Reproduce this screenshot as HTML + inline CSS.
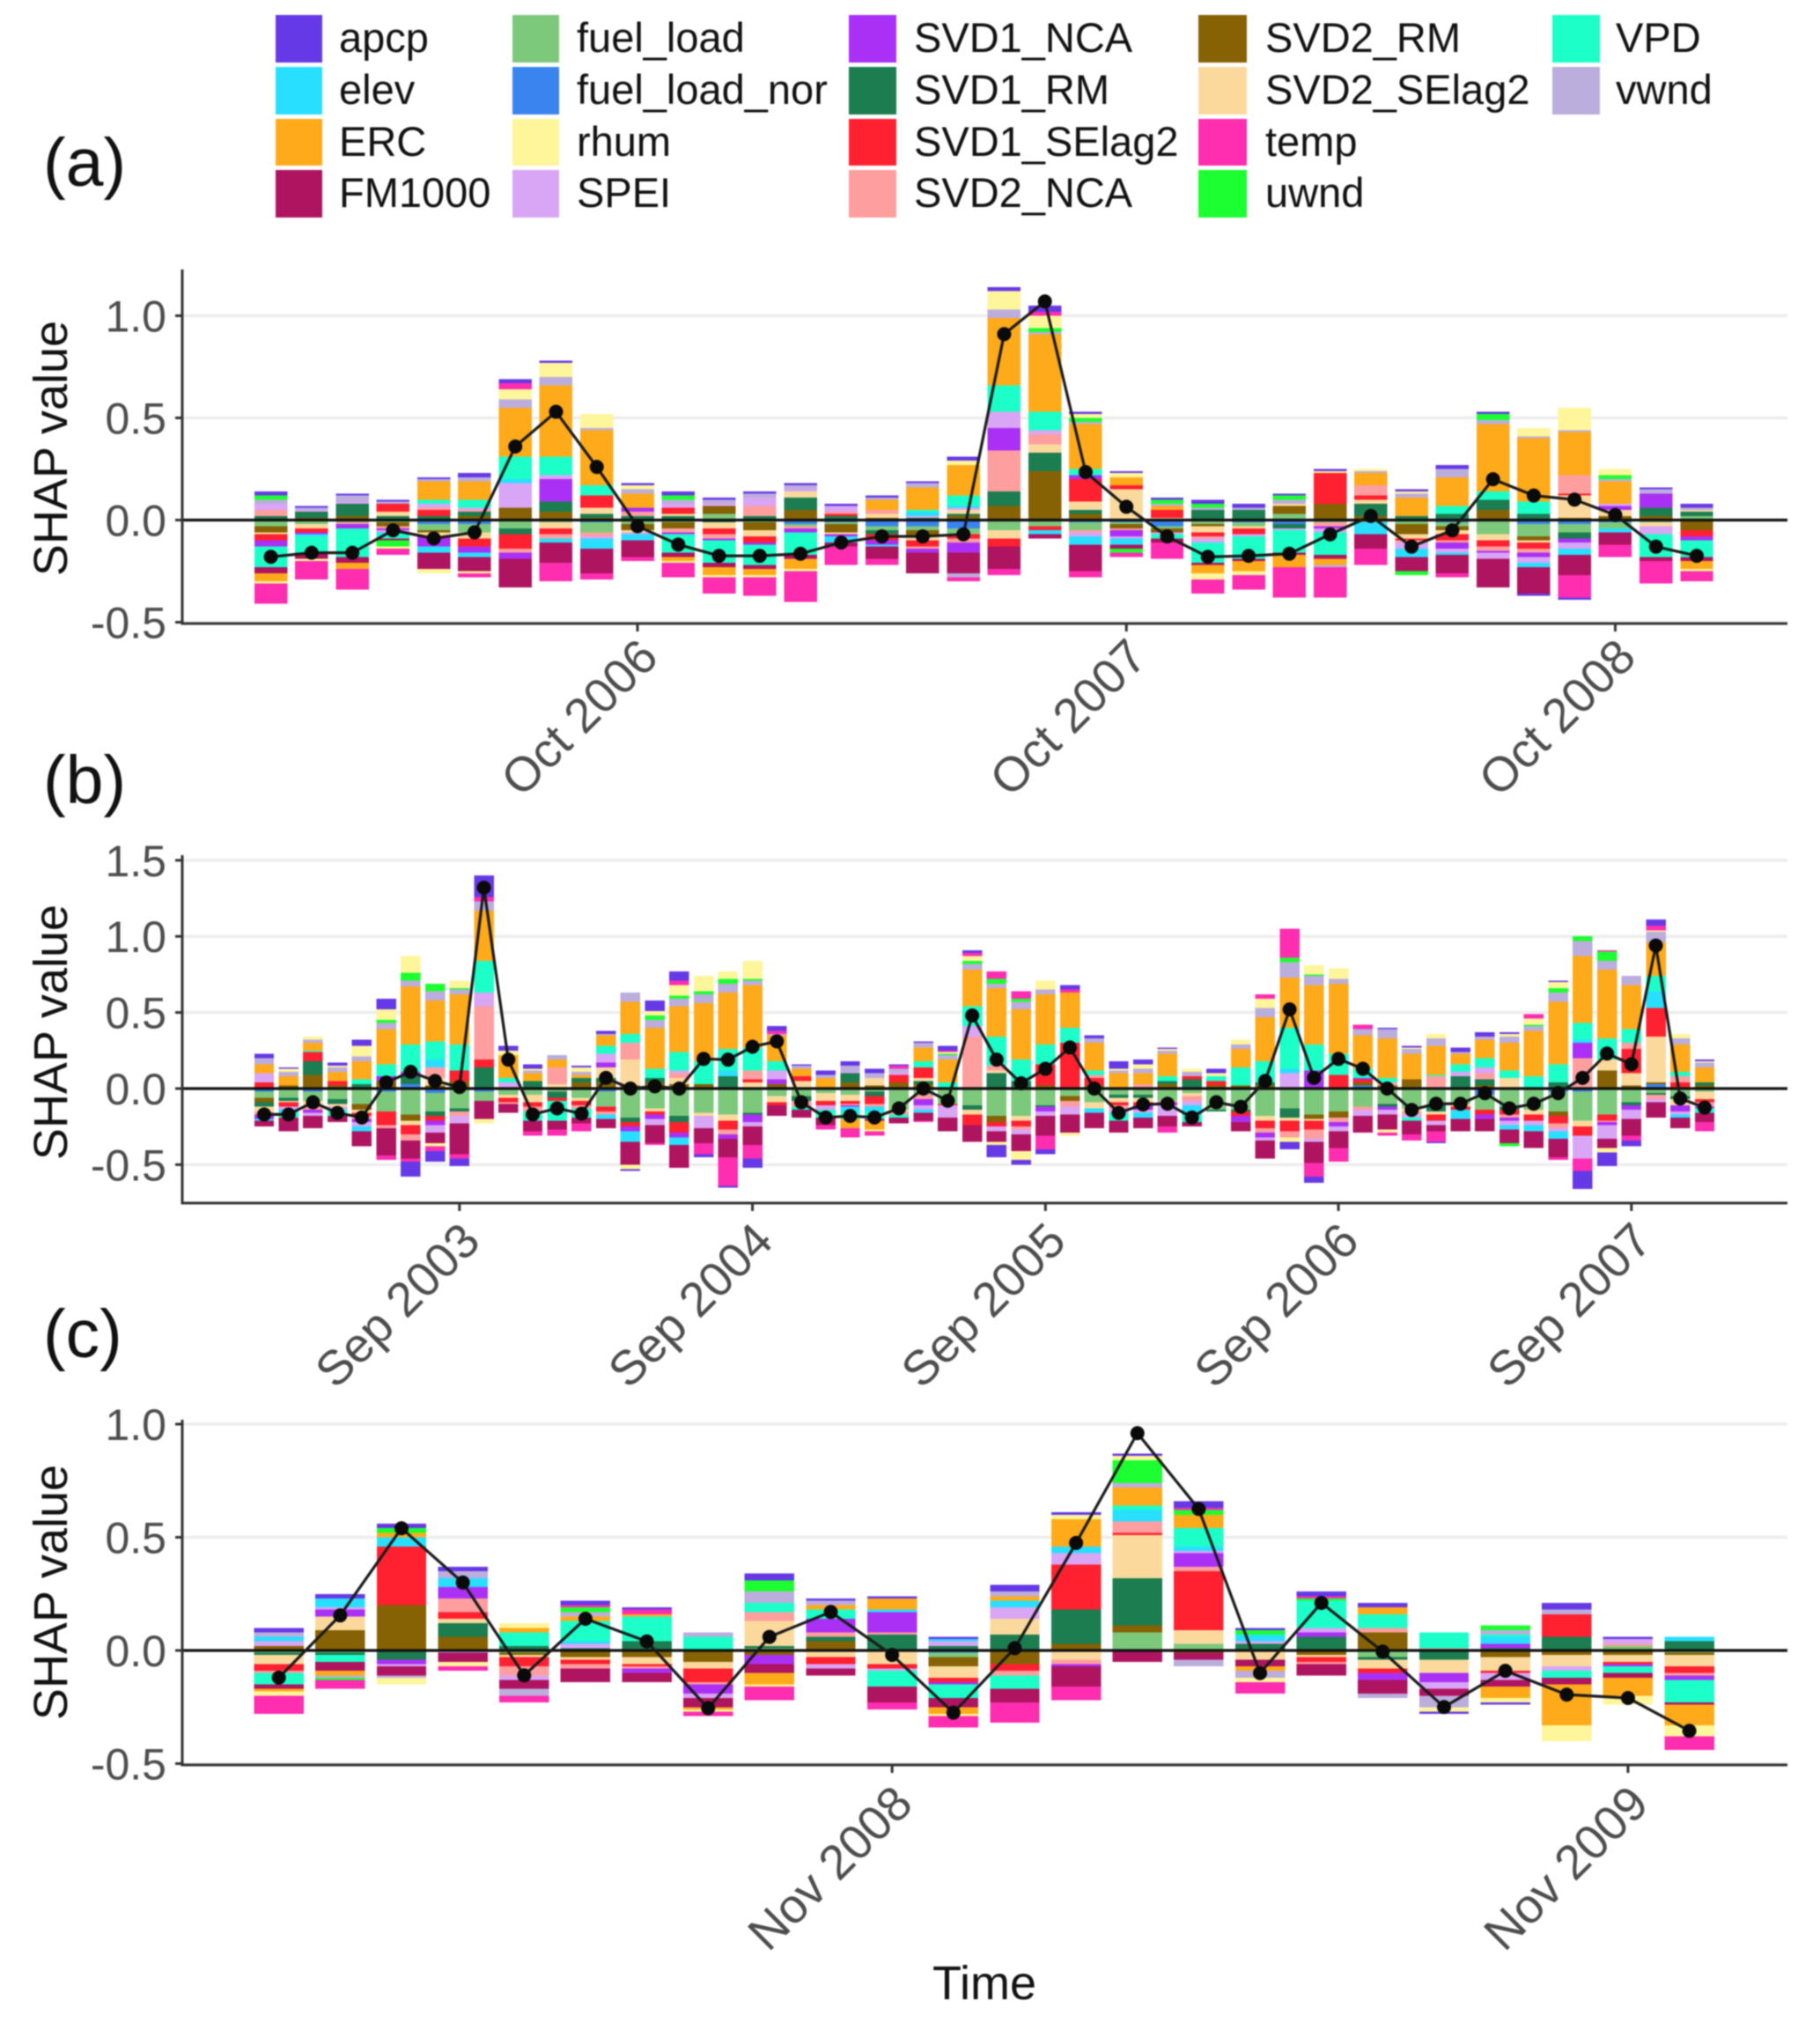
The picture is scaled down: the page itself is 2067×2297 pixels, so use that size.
<!DOCTYPE html>
<html lang="en">
<head>
<meta charset="utf-8">
<title>SHAP value time series</title>
<style>
html,body{margin:0;padding:0;background:#fff;width:2067px;height:2297px;overflow:hidden}
svg{display:block;font-family:"Liberation Sans",sans-serif;filter:blur(.7px)}
.lg{font-size:47px;fill:#111}
.ytick{font-size:50px;fill:#4d4d4d;text-anchor:end}
.xtick{font-size:55px;fill:#4d4d4d;text-anchor:end}
.ytitle{font-size:54px;fill:#111;text-anchor:middle}
.tag{font-size:77px;fill:#111}
</style>
</head>
<body>
<svg id="chart" xmlns="http://www.w3.org/2000/svg" width="2067" height="2297" viewBox="0 0 2067 2297">
<rect width="2067" height="2297" fill="#fff"/>
<g>
<g><rect x="313" y="17" width="53" height="54" fill="#6639E6"/><text class="lg" x="385" y="59">apcp</text></g>
<g><rect x="313" y="76" width="53" height="54" fill="#29DFFF"/><text class="lg" x="385" y="118">elev</text></g>
<g><rect x="313" y="135" width="53" height="53" fill="#FFAA1A"/><text class="lg" x="385" y="177">ERC</text></g>
<g><rect x="313" y="193" width="53" height="54" fill="#AE1460"/><text class="lg" x="385" y="235">FM1000</text></g>
<g><rect x="582" y="17" width="53" height="54" fill="#7CC97C"/><text class="lg" x="655" y="59">fuel_load</text></g>
<g><rect x="582" y="76" width="53" height="54" fill="#3A84F0"/><text class="lg" x="655" y="118">fuel_load_nor</text></g>
<g><rect x="582" y="135" width="53" height="53" fill="#FFF59A"/><text class="lg" x="655" y="177">rhum</text></g>
<g><rect x="582" y="193" width="53" height="54" fill="#D9A5F5"/><text class="lg" x="655" y="235">SPEI</text></g>
<g><rect x="964" y="17" width="54" height="54" fill="#AB30F5"/><text class="lg" x="1038" y="59">SVD1_NCA</text></g>
<g><rect x="964" y="76" width="54" height="54" fill="#1B7D50"/><text class="lg" x="1038" y="118">SVD1_RM</text></g>
<g><rect x="964" y="135" width="54" height="53" fill="#FF2030"/><text class="lg" x="1038" y="177">SVD1_SElag2</text></g>
<g><rect x="964" y="193" width="54" height="54" fill="#FF9E9E"/><text class="lg" x="1038" y="235">SVD2_NCA</text></g>
<g><rect x="1361" y="17" width="55" height="54" fill="#866204"/><text class="lg" x="1437" y="59">SVD2_RM</text></g>
<g><rect x="1361" y="76" width="55" height="54" fill="#FBD99C"/><text class="lg" x="1437" y="118">SVD2_SElag2</text></g>
<g><rect x="1361" y="135" width="55" height="53" fill="#FF2DB0"/><text class="lg" x="1437" y="177">temp</text></g>
<g><rect x="1361" y="193" width="55" height="54" fill="#1CFF30"/><text class="lg" x="1437" y="235">uwnd</text></g>
<g><rect x="1763" y="17" width="54" height="54" fill="#1CFFC8"/><text class="lg" x="1835" y="59">VPD</text></g>
<g><rect x="1763" y="76" width="54" height="54" fill="#BBADDC"/><text class="lg" x="1835" y="118">vwnd</text></g>
</g>
<text class="tag" x="49" y="211">(a)</text>
<text class="tag" x="49" y="912">(b)</text>
<text class="tag" x="49" y="1541">(c)</text>
<text x="1118" y="2270" font-size="54" fill="#111" text-anchor="middle">Time</text>
</svg>
<script>
// Column order of every row in the panel*Bars arrays (SHAP contributions in hundredths).
const seriesNames = ['apcp','temp','uwnd','rhum','vwnd','ERC','FM1000','VPD','elev','fuel_load_nor','SPEI','SVD1_NCA','SVD2_NCA','SVD1_SElag2','SVD2_SElag2','SVD1_RM','SVD2_RM','fuel_load'];
const seriesColors = ['#6639E6','#FF2DB0','#1CFF30','#FFF59A','#BBADDC','#FFAA1A','#AE1460','#1CFFC8','#29DFFF','#3A84F0','#D9A5F5','#AB30F5','#FF9E9E','#FF2030','#FBD99C','#1B7D50','#866204','#7CC97C'];
// Stack sequence, outermost to nearest zero.
const stackSequence = ['apcp','temp','rhum','uwnd','vwnd','ERC','FM1000','VPD','elev','SPEI','SVD1_NCA','SVD2_NCA','SVD1_SElag2','SVD2_SElag2','SVD1_RM','SVD2_RM','fuel_load','fuel_load_nor'];

const panelABars = [
[2,-10,2,-1,2,-4,-3,-10,0,0,3,-3,3,-3,-1,2,-3,-3],
[1,-9,0,-1,1,0,-3,-8,-1,0,1,-1,0,-2,-2,3,1,-2],
[1,-10,0,0,3,-3,-3,-14,0,0,1,-2,-1,0,0,6,2,-1],
[1,-3,-3,-1,1,0,-1,-2,-1,0,-1,-1,-1,4,2,2,-2,-1],
[1,0,0,-2,1,9,-8,2,-3,-2,2,-5,1,3,-2,2,-1,-3],
[2,-2,0,-1,2,9,-7,4,-2,-2,1,-3,1,-4,-3,2,2,-4],
[2,3,0,5,4,24,-14,11,2,0,12,-3,-2,-7,0,-3,6,-4],
[1,-9,0,7,4,35,-10,9,-2,0,2,11,-2,-3,-3,5,4,-1],
[0,-3,0,7,1,27,-12,5,-5,-1,-1,0,-2,6,3,2,1,-5],
[1,-2,0,2,2,7,-8,0,-3,0,-1,2,2,0,-1,2,-3,-2],
[2,-7,2,-1,2,-2,-2,-9,0,0,2,-1,-2,3,1,2,-3,-1],
[1,-8,0,-1,2,-4,-2,-11,0,0,1,-1,-2,-3,-3,-1,4,3],
[1,-9,0,-1,2,-3,-2,-10,0,0,4,-1,5,-3,-3,2,-4,-1],
[1,-15,0,-1,2,-5,-2,-11,0,-2,1,-2,-1,0,3,6,5,-1],
[1,-9,0,0,0,0,-2,0,-3,-1,3,-1,1,1,-1,2,-4,-1],
[1,-3,0,0,1,5,-6,0,-1,-3,0,-2,2,-3,2,-2,1,-2],
[1,0,0,0,2,11,-10,1,2,-3,1,-2,-1,-3,-2,1,-3,-2],
[2,-2,0,2,-2,15,-10,5,1,-4,1,-5,-2,-2,2,1,2,-3],
[2,-3,0,9,4,33,-11,13,0,0,8,11,20,-4,-4,7,7,-5],
[3,2,2,6,1,38,-2,9,-2,0,2,0,5,-2,4,9,24,-3],
[1,-3,2,2,1,22,-13,3,-4,-1,-2,2,-1,11,4,2,3,-4],
[1,-2,-2,2,0,4,-2,0,-3,-1,-1,-3,-1,2,15,0,-2,-1],
[1,-8,2,0,1,2,-2,-2,0,-3,-1,0,0,4,1,0,-2,-1],
[2,-7,2,-3,1,-4,-1,-10,0,0,-2,0,-1,-2,-3,5,-1,-2],
[2,-7,0,-2,1,-5,-1,-11,0,-1,-1,0,0,-3,-1,5,0,-2],
[1,-15,2,0,2,-6,-1,-11,0,-2,-1,0,0,0,1,-2,4,3],
[1,-15,0,1,-1,-3,-2,-11,0,0,-2,-1,-2,15,0,0,8,-1],
[0,-8,0,1,1,6,-7,0,-6,0,0,0,5,2,2,6,2,-1],
[1,0,-2,1,2,9,-7,0,-4,0,-3,0,-1,-1,-2,2,-5,-2],
[2,-2,0,0,4,14,-9,4,-1,-1,-2,-3,-1,-3,-2,3,-2,-2],
[1,0,3,0,2,33,-14,4,0,0,-3,-1,-2,-3,-3,5,5,-7],
[-1,0,0,4,1,31,-13,6,-2,-2,-3,-2,-2,-3,-1,3,-2,-6],
[-1,-11,0,11,1,21,-10,0,-3,-2,-3,-2,9,1,11,-3,1,-4],
[0,-6,2,3,1,11,-6,0,-2,-1,1,2,0,0,3,0,2,-3],
[1,-11,0,0,2,0,-2,-11,0,0,-4,7,0,0,-2,4,2,-1],
[2,-5,0,-1,1,-4,-2,-8,0,0,0,-2,0,-3,1,2,-5,2]
];
const panelALine = [-.18,-.16,-.16,-.05,-.09,-.06,.36,.53,.26,-.03,-.12,-.175,-.175,-.165,-.11,-.08,-.08,-.07,.91,1.07,.235,.065,-.08,-.18,-.175,-.165,-.07,.02,-.13,-.05,.20,.12,.10,.025,-.13,-.175];
const panelAYTicks = [1.0,0.5,0.0,-0.5];
const panelAYLabels = ['1.0','0.5','0.0','-0.5'];
const panelAXTickMonths = [9,21,33];
const panelAXLabels = ['Oct 2006','Oct 2007','Oct 2008'];

const panelBBars = [
[3,0,0,0,4,6,-4,0,-1,-2,6,-3,-2,4,-3,-3,-3,-4],
[1,0,0,2,3,6,-9,-3,-2,-1,-2,0,0,-3,-1,-2,2,-5],
[0,0,0,2,2,5,-8,1,0,-2,-2,-2,-2,6,-4,9,9,-6],
[2,0,0,1,3,6,-4,-4,0,0,-2,0,0,3,-2,-3,2,-7],
[4,0,0,7,3,12,-10,3,-3,0,-3,-2,-2,-2,-2,3,-4,-10],
[7,-3,2,7,4,23,-18,8,0,-2,0,3,-2,-9,0,0,5,-13],
[-10,-2,5,11,4,38,-12,18,0,3,0,3,-4,-6,-3,5,-4,-17],
[-7,-3,5,-2,6,27,-7,12,5,-3,-5,-3,7,-3,5,-3,2,-12],
[-5,-3,1,5,3,33,-20,17,0,0,-5,0,-3,7,0,-2,5,-13],
[14,3,0,-3,6,33,-12,21,0,-2,9,0,35,5,0,14,0,-6],
[3,0,0,3,0,15,-6,3,0,0,3,0,-1,-3,-2,0,1,-4],
[3,-3,0,1,2,5,-7,-6,0,0,0,0,-3,-3,-5,4,1,-4],
[0,-4,0,0,3,5,-6,-13,0,0,0,0,11,-2,2,-4,1,-2],
[1,-5,0,3,2,2,-4,-6,0,0,0,0,-2,-3,-2,3,4,-6],
[2,0,0,0,1,7,-6,5,-3,-2,6,3,-2,-3,7,3,4,-10],
[-1,0,0,-3,6,21,-15,6,-7,0,0,-3,11,-3,17,-3,2,-19],
[7,-1,3,3,5,27,-12,6,0,0,-4,-3,0,-2,-2,3,4,-13],
[6,3,2,7,5,30,-15,12,-5,-1,2,-3,3,-7,4,-4,3,-17],
[-2,-7,2,10,6,38,-10,15,0,0,-8,0,0,0,-2,0,3,-16],
[-1,-19,3,5,6,37,-12,14,4,0,0,-3,-3,-6,-4,8,0,-17],
[-6,-9,1,12,3,41,-12,15,0,0,-3,-5,6,2,3,-1,1,-16],
[3,2,0,0,1,17,-7,6,0,0,6,3,0,-2,-4,0,3,-5],
[1,0,0,0,2,5,-5,-2,0,0,0,0,-4,3,4,-3,1,-5],
[3,-3,0,0,2,6,-5,-5,0,0,-3,0,0,-3,-5,0,1,-3],
[3,-6,0,0,4,-6,0,-5,-3,0,1,-1,-1,-2,-4,6,4,-4],
[3,-3,0,-1,3,-6,-1,-5,-3,0,0,0,-2,-5,5,-3,2,-2],
[1,2,0,0,2,0,-4,-2,0,0,2,0,-2,5,-1,0,4,-14],
[1,-1,0,0,3,9,-5,4,-2,0,-3,-4,-3,7,2,2,3,-4],
[3,1,1,1,3,15,-9,4,0,0,-8,0,0,-1,0,0,0,-10],
[2,2,2,3,4,24,-11,13,0,0,7,0,34,-7,-3,-3,0,-11],
[-8,5,3,-2,3,32,-7,19,0,0,-3,0,3,-3,2,10,-4,-18],
[-3,5,2,-6,5,33,-11,14,0,0,-3,0,-2,-4,-3,5,0,-18],
[-3,-9,0,6,3,33,-13,13,0,0,-3,-3,0,14,0,-1,2,-11],
[3,2,0,-2,0,23,-12,10,0,0,-5,0,-4,30,0,0,-3,-5],
[2,0,0,0,3,18,-10,3,-3,0,0,0,2,5,-4,0,2,-9],
[5,0,0,1,2,9,-8,-4,-1,0,-3,0,-2,-2,-3,-2,1,-4],
[3,0,0,3,3,7,-7,0,-3,0,-2,-3,2,-2,-3,-2,1,-4],
[1,-4,0,1,2,15,-7,3,0,0,-7,-2,-1,0,0,2,3,-8],
[0,0,0,2,3,0,-3,-4,-7,0,-3,0,-3,2,-2,5,1,-3],
[3,0,0,2,0,0,0,3,0,0,0,0,0,3,0,-1,2,-14],
[0,0,0,3,3,12,-6,12,0,0,0,-4,0,-3,0,-1,2,-14],
[0,3,0,6,6,29,-12,14,0,0,-2,-3,-3,-5,-3,2,2,-18],
[-5,19,3,-3,10,33,0,27,3,0,10,0,-4,-7,-2,-6,0,-13],
[-4,-9,1,6,6,39,-14,17,0,-1,-2,12,-6,-6,-1,0,-3,-16],
[0,-9,0,7,3,46,-11,14,0,0,-3,-3,-3,9,0,0,-4,-15],
[0,3,0,0,4,22,-11,6,0,2,-4,1,-2,2,0,0,2,-12],
[1,-2,0,-2,6,26,-10,3,0,0,-3,-2,2,0,0,-2,2,-10],
[1,-4,0,1,3,17,-9,-2,0,0,-2,0,-2,0,-2,0,6,-13],
[-1,-7,0,3,5,19,-4,1,0,0,-3,0,7,-4,-2,-5,1,-10],
[3,0,0,0,1,7,-8,5,-6,0,3,0,0,-2,-2,8,0,-10],
[3,0,0,0,2,12,-8,6,0,-4,4,-3,4,-3,0,4,2,-10],
[1,0,-2,2,4,18,-9,5,-3,0,-3,-2,-2,-3,7,-2,0,-12],
[0,3,1,4,3,30,-11,8,-4,0,-3,0,0,-4,-3,0,0,-14],
[1,-2,3,4,6,41,-12,12,-5,-2,-2,0,-3,-5,0,4,-3,-13],
[-12,-8,3,0,10,44,0,11,2,-2,-15,10,20,-6,-4,0,0,-19],
[-9,1,6,-3,6,45,-6,14,0,0,-9,-2,-1,-4,7,0,12,-17],
[-4,-3,0,0,6,29,-11,9,0,0,-6,-3,4,16,8,-2,2,-9],
[4,3,0,1,7,22,-10,10,11,3,-2,0,-3,19,30,-1,1,-3],
[0,0,0,3,4,18,-7,3,-2,0,-2,-4,4,3,-4,-2,1,-5],
[1,-6,0,1,3,10,-6,-3,0,0,0,-1,-3,-2,-5,2,2,-2]
];
const panelBLine = [-.17,-.17,-.09,-.16,-.19,.04,.11,.05,.01,1.32,.19,-.17,-.13,-.165,.07,0,.015,0,.195,.19,.275,.31,-.09,-.19,-.18,-.19,-.13,0,-.08,.48,.19,.035,.13,.27,0,-.16,-.105,-.10,-.19,-.09,-.12,.05,.52,.07,.195,.13,0,-.14,-.10,-.10,-.03,-.13,-.10,-.03,.07,.23,.16,.94,-.065,-.125];
const panelBYTicks = [1.5,1.0,0.5,0.0,-0.5];
const panelBYLabels = ['1.5','1.0','0.5','0.0','-0.5'];
const panelBXTickMonths = [8,20,32,44,56];
const panelBXLabels = ['Sep 2003','Sep 2004','Sep 2005','Sep 2006','Sep 2007'];

const panelCBars = [
[2,-8,0,-2,2,-1,-2,-5,2,0,2,0,-1,-3,-4,-1,2,-1],
[2,-4,-1,0,-1,-2,-4,-3,4,0,1,3,0,0,6,-1,9,-1],
[2,0,2,-3,-1,2,-4,0,4,0,-1,-2,0,26,0,-4,20,0],
[2,-2,0,-2,3,0,-4,0,4,0,-1,5,6,3,2,6,6,0],
[0,-3,0,2,-3,2,-4,6,0,0,-2,0,-4,-4,-1,2,-1,-1],
[2,1,2,0,2,2,-6,9,1,0,2,0,-2,-2,-1,1,-3,0],
[1,2,0,0,0,1,-4,11,0,0,0,-2,-1,-1,-3,4,-3,0],
[0,-2,0,-1,2,-1,-4,6,0,0,-2,-4,-1,-6,-3,0,-5,0],
[3,-6,5,-1,5,-5,-4,4,0,0,0,-4,4,0,11,1,-2,1],
[1,0,0,0,2,2,-3,4,0,0,-2,6,2,-3,-3,2,4,0],
[1,-3,0,0,0,5,-7,-7,1,0,-1,9,1,-2,-6,7,0,0],
[1,-5,0,-1,0,-3,-4,-6,1,-1,2,-1,0,-2,-5,2,-4,-2],
[3,-9,0,0,2,2,-6,-6,3,0,5,0,-2,-3,7,7,-6,0],
[1,-6,0,2,0,12,-9,0,3,0,5,-1,-2,20,-4,15,3,0],
[1,0,10,2,2,8,-5,2,5,0,0,0,5,1,19,21,3,8],
[3,1,2,0,-3,6,-3,8,2,0,1,6,2,26,6,0,-1,3],
[1,-5,2,-2,-3,-2,-3,0,3,0,1,0,0,0,-4,3,0,0],
[2,1,1,0,0,0,-5,12,0,0,2,2,-1,-2,-1,6,-2,0],
[2,0,0,0,-2,3,-6,6,0,0,0,-3,2,-2,-4,-1,8,-3],
[-1,0,0,-2,-5,0,-3,7,0,0,-3,-4,1,0,-6,-4,0,0],
[-1,0,2,-2,2,-5,-3,1,3,0,-3,2,0,-1,-6,1,-3,0],
[3,0,0,-7,2,-18,-3,-3,0,0,-2,0,0,10,-5,6,-2,0],
[1,0,0,-4,0,-8,-2,-3,0,0,2,-1,1,-1,-3,0,-2,2],
[0,-6,0,-5,0,-9,-1,-10,2,0,0,-2,-1,-3,-5,4,-1,-1]
];
const panelCLine = [-.12,.155,.54,.30,-.11,.14,.04,-.255,.06,.17,-.02,-.275,.01,.475,.96,.625,-.10,.21,-.005,-.25,-.09,-.195,-.21,-.355];
const panelCYTicks = [1.0,0.5,0.0,-0.5];
const panelCYLabels = ['1.0','0.5','0.0','-0.5'];
const panelCXTickMonths = [10,22];
const panelCXLabels = ['Nov 2008','Nov 2009'];

const svg = document.getElementById('chart');
const NS = 'http://www.w3.org/2000/svg';

function make(tag, attrs, parent, text) {
  const el = document.createElementNS(NS, tag);
  for (const k in attrs) el.setAttribute(k, attrs[k]);
  if (text !== undefined) el.textContent = text;
  parent.appendChild(el);
  return el;
}

function drawPanel(name, bars, line, yTicks, yLabels, xMonths, xLabels, box) {
  const xScale = i => box.firstX + i * (box.lastX - box.firstX) / (bars.length - 1);
  const yScale = v => box.zeroY - v * box.unit;
  const barWidth = 0.81 * (box.lastX - box.firstX) / (bars.length - 1);

  const panel = make('g', {}, svg);
  
  

  yTicks.forEach((t, i) => {
    const y = yScale(t);
    const grid = make('line', {x1: box.left, x2: box.right, y1: y, y2: y, stroke: '#ededed', 'stroke-width': 3.5}, panel);
    
    
    const tick = make('line', {x1: box.left - 8, x2: box.left, y1: y, y2: y, stroke: '#333', 'stroke-width': 3}, panel);
    
    
    const label = make('text', {class: 'ytick', x: box.left - 18, y: y + 18}, panel, yLabels[i]);
    
    
  });

  bars.forEach((row, m) => {
    const group = make('g', {}, panel);
    
    
    let up = 0;
    let down = 0;
    for (let s = stackSequence.length - 1; s >= 0; s--) {
      const col = seriesNames.indexOf(stackSequence[s]);
      const v = (row[col] || 0) / 100;
      if (v === 0) continue;
      let top, bottom;
      if (v > 0) {
        bottom = yScale(up);
        up += v;
        top = yScale(up);
      } else {
        top = yScale(down);
        down += v;
        bottom = yScale(down);
      }
      const seg = make('rect', {x: xScale(m) - barWidth / 2, y: top, width: barWidth, height: bottom - top, fill: seriesColors[col], 'shape-rendering': 'crispEdges'}, group);
      
      
    }
  });

  const zero = make('line', {x1: box.left, x2: box.right, y1: yScale(0), y2: yScale(0), stroke: '#111', 'stroke-width': 3.2}, panel);
  
  

  const points = line.map((v, i) => xScale(i) + ',' + yScale(v)).join(' ');
  const path = make('polyline', {points: points, fill: 'none', stroke: '#1a1a1a', 'stroke-width': 3.2, 'stroke-linejoin': 'round'}, panel);
  
  

  line.forEach((v, i) => {
    const dot = make('circle', {cx: xScale(i), cy: yScale(v), r: 8, fill: '#0a0a0a'}, panel);
    
    
  });

  const yAxis = make('line', {x1: box.left, x2: box.left, y1: box.top, y2: box.bottom + 1.5, stroke: '#333', 'stroke-width': 3}, panel);
  
  
  const xAxis = make('line', {x1: box.left, x2: box.right, y1: box.bottom, y2: box.bottom, stroke: '#333', 'stroke-width': 3}, panel);
  
  

  xMonths.forEach((m, i) => {
    const x = xScale(m);
    const tick = make('line', {x1: x, x2: x, y1: box.bottom, y2: box.bottom + 9, stroke: '#333', 'stroke-width': 3}, panel);
    
    
    const lx = x + 26;
    const ly = box.bottom + box.labelDrop;
    const label = make('text', {class: 'xtick', x: lx, y: ly, transform: 'rotate(-45 ' + lx + ' ' + ly + ')'}, panel, xLabels[i]);
    
    
  });

  const title = make('text', {class: 'ytitle', x: 76, y: box.titleY, transform: 'rotate(-90 76 ' + box.titleY + ')'}, panel, 'SHAP value');
  
  
}

drawPanel('a', panelABars, panelALine, panelAYTicks, panelAYLabels, panelAXTickMonths, panelAXLabels,
  {left: 207, right: 2030, top: 306, bottom: 708, zeroY: 590.5, unit: 232, firstX: 307.6, lastX: 1927, titleY: 509, labelDrop: 41});
drawPanel('b', panelBBars, panelBLine, panelBYTicks, panelBYLabels, panelBXTickMonths, panelBXLabels,
  {left: 207, right: 2030, top: 971, bottom: 1366, zeroY: 1236, unit: 172.8, firstX: 300, lastX: 1936, titleY: 1172, labelDrop: 46});
drawPanel('c', panelCBars, panelCLine, panelCYTicks, panelCYLabels, panelCXTickMonths, panelCXLabels,
  {left: 207, right: 2030, top: 1612, bottom: 2004, zeroY: 1874, unit: 257, firstX: 316.7, lastX: 1918.6, titleY: 1808, labelDrop: 47});
</script>
</body>
</html>
